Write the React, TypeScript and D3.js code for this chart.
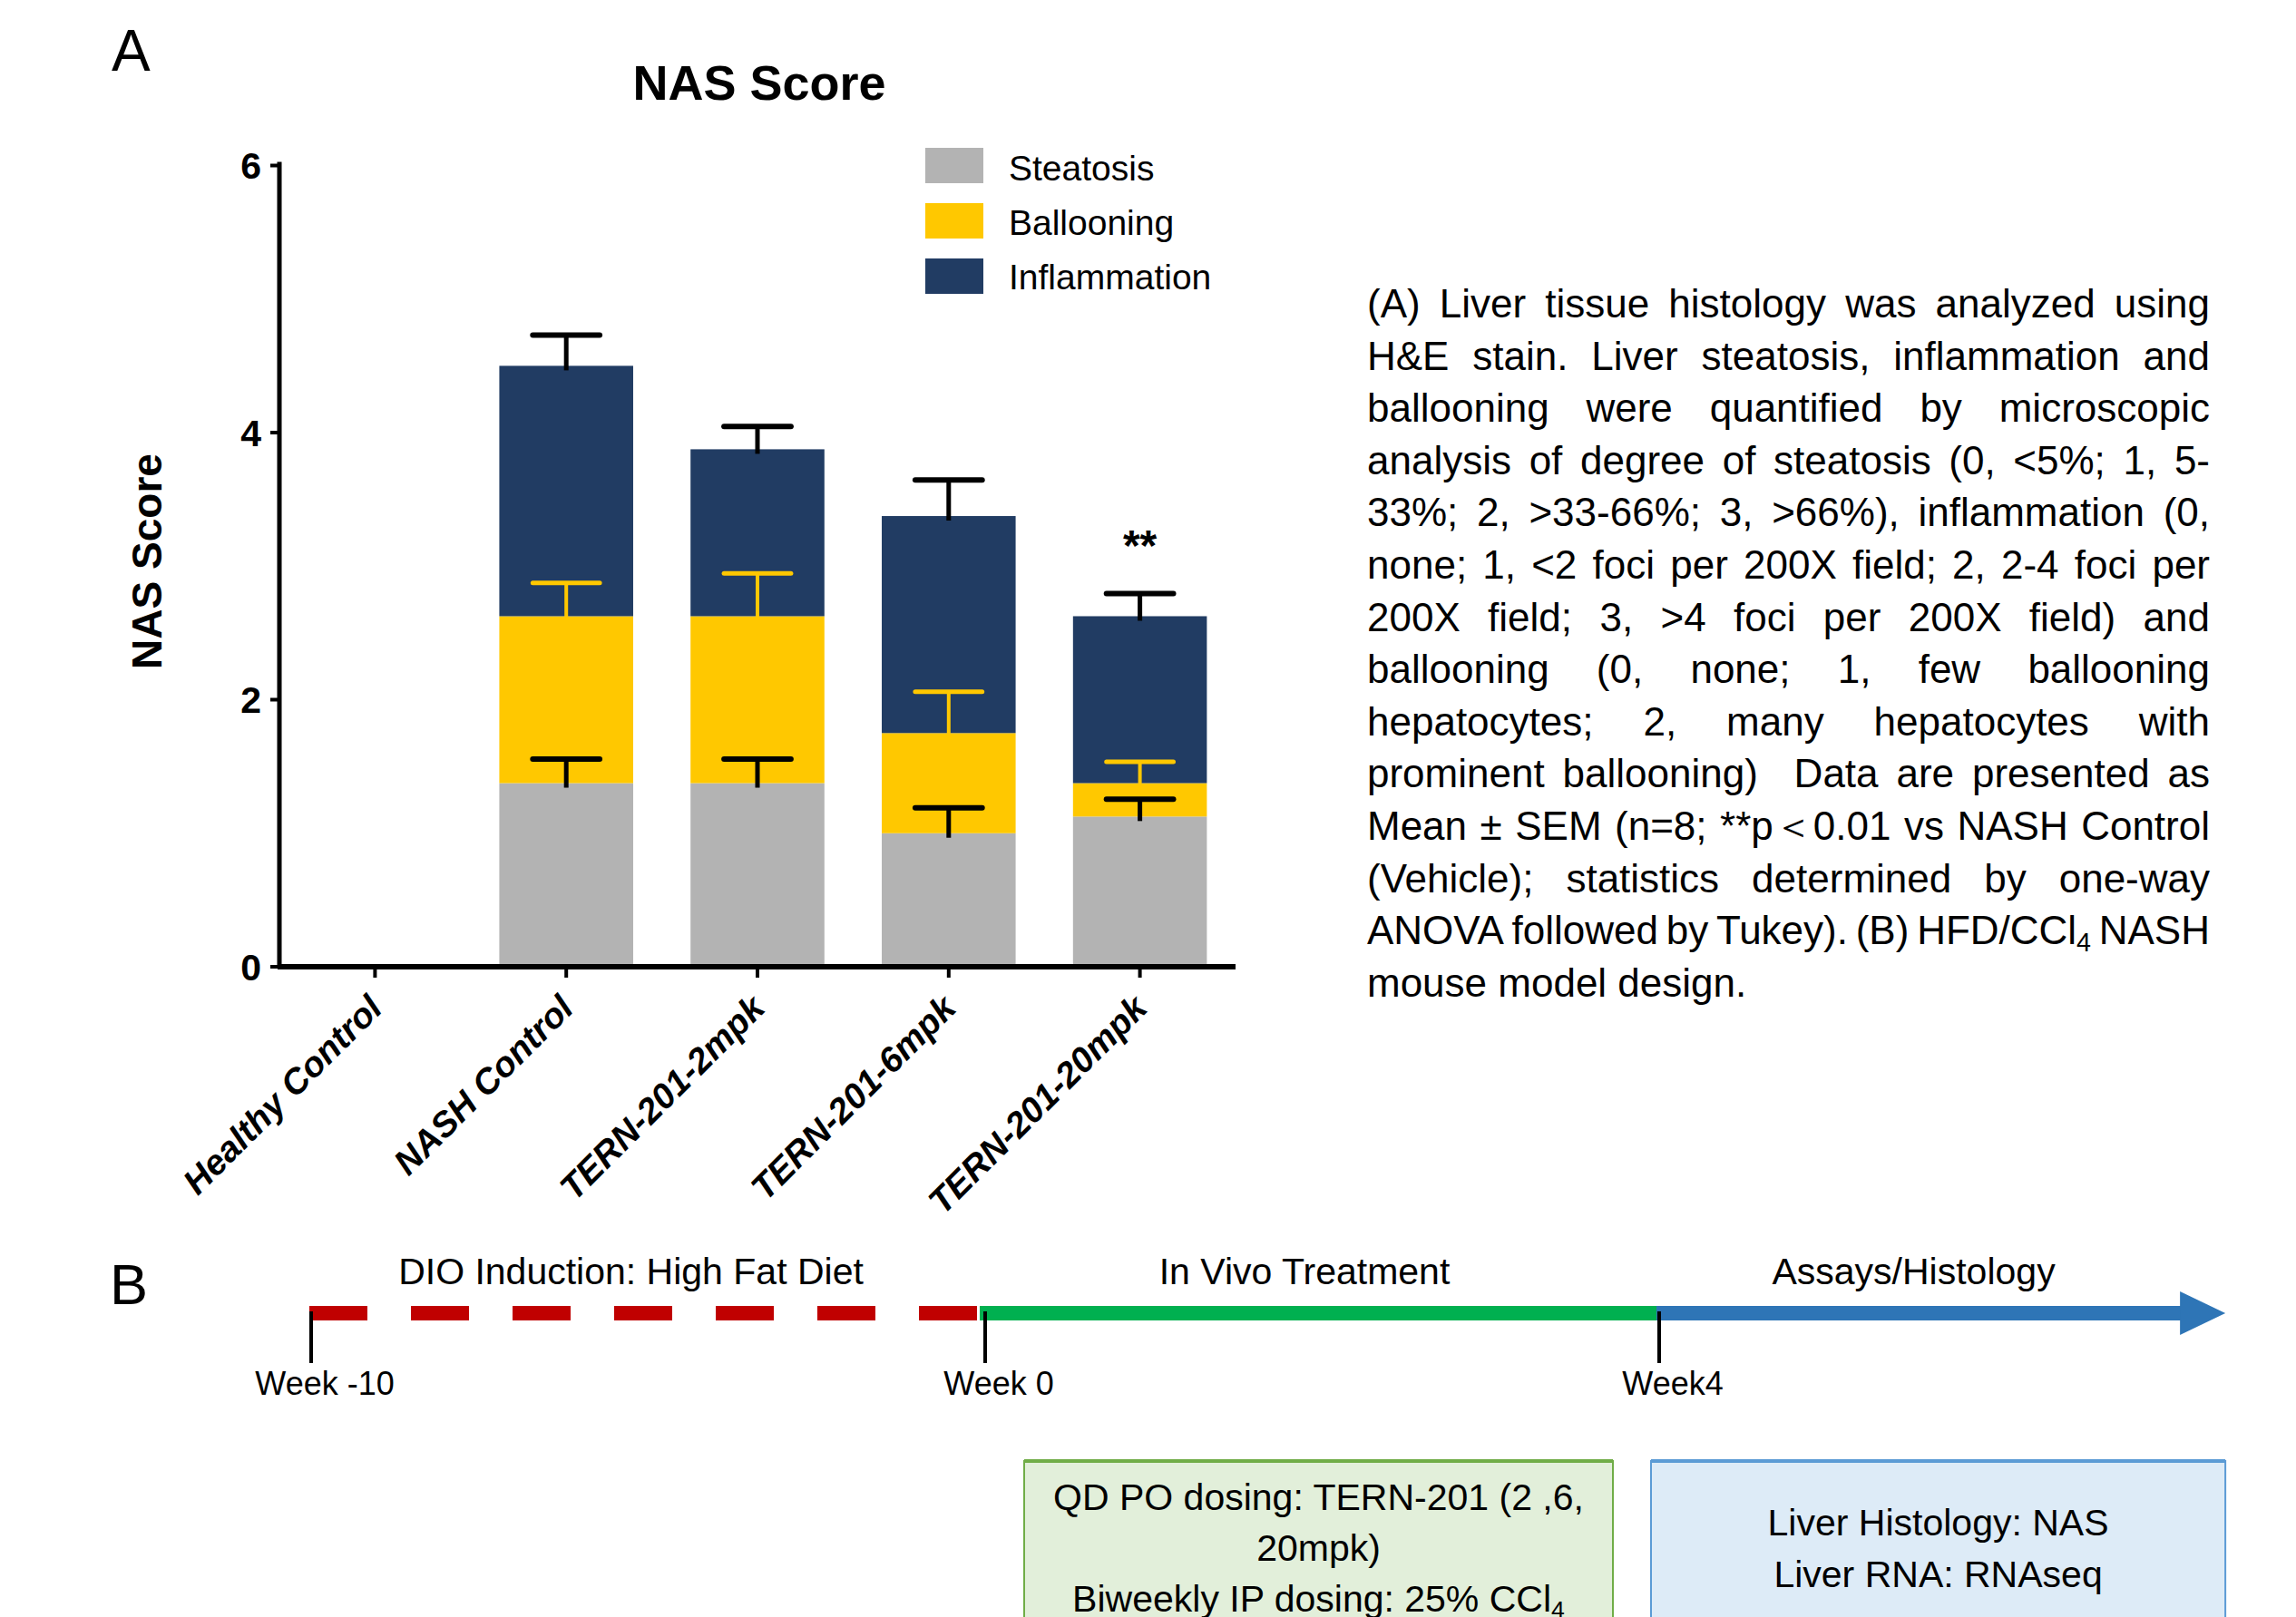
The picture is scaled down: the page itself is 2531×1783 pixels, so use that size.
import React from 'react';
import * as d3 from 'd3';

const categories = ['Healthy Control', 'NASH Control', 'TERN-201-2mpk', 'TERN-201-6mpk', 'TERN-201-20mpk'];
const steatosis = [0, 1.375, 1.375, 1.0, 1.125];
const ballooning = [0, 1.25, 1.25, 0.75, 0.25];
const inflammation = [0, 1.875, 1.25, 1.625, 1.25];
const steatosisSEM = [0, 0.18, 0.18, 0.19, 0.13];
const ballooningSEM = [0, 0.25, 0.32, 0.31, 0.16];
const inflammationSEM = [0, 0.23, 0.17, 0.27, 0.17];
const significance = ['', '', '', '', '**'];
const yTicks = [0, 2, 4, 6];
const seriesNames = ['Steatosis', 'Ballooning', 'Inflammation'];
const seriesColors = ['#b3b3b3', '#ffc800', '#213c63'];
const errColors = ['#000000', '#ffc800', '#000000'];

const captionLines = [
  '(A) Liver tissue histology was analyzed using',
  'H&E stain. Liver steatosis, inflammation and',
  'ballooning were quantified by microscopic',
  'analysis of degree of steatosis (0, <5%; 1, 5-',
  '33%; 2, >33-66%; 3, >66%), inflammation (0,',
  'none; 1, <2 foci per 200X field; 2, 2-4 foci per',
  '200X field; 3, >4 foci per 200X field) and',
  'ballooning (0, none; 1, few ballooning',
  'hepatocytes; 2, many hepatocytes with',
  'prominent ballooning)  Data are presented as',
  'Mean ± SEM (n=8; **p＜0.01 vs NASH Control',
  '(Vehicle); statistics determined by one-way',
  'ANOVA followed by Tukey). (B) HFD/CCl_4 NASH',
  'mouse model design.',
];

const milestones = ['Week -10', 'Week 0', 'Week4'];
const phases = ['DIO Induction: High Fat Diet', 'In Vivo Treatment', 'Assays/Histology'];
const treatmentBox = ['QD PO dosing: TERN-201 (2 ,6,', '20mpk)', 'Biweekly IP dosing: 25% CCl_4'];
const assayBox = ['Liver Histology: NAS', 'Liver RNA: RNAseq'];

const FONT = '"Liberation Sans", Arial, "Noto Sans", sans-serif';

let measureCtx: CanvasRenderingContext2D | null = null;
function measure(text: string, size: number): number {
  if (!measureCtx) measureCtx = document.createElement('canvas').getContext('2d');
  if (!measureCtx) return text.length * size * 0.5;
  measureCtx.font = `${size}px "Liberation Sans", Arial, sans-serif`;
  return measureCtx.measureText(text).width;
}

function tokenWidth(tok: string, size: number): number {
  if (tok.includes('_')) {
    const [a, b] = tok.split('_');
    return measure(a, size) + measure(b, size * 0.65);
  }
  return measure(tok, size);
}

function renderTok(tok: string, size: number) {
  if (tok.includes('_')) {
    const [a, b] = tok.split('_');
    return (
      <>
        {a}
        <tspan fontSize={size * 0.65} dy={size * 0.18}>{b}</tspan>
      </>
    );
  }
  return tok;
}

export default function App() {
  // ---------- Panel A chart ----------
  const x = d3.scaleBand<string>().domain(categories).range([308, 1362]).paddingInner(0.3).paddingOuter(0.15);
  const y = d3.scaleLinear().domain([0, 6]).range([1066, 182.5]);

  const rows = categories.map((c, i) => ({
    cat: c,
    Steatosis: steatosis[i],
    Ballooning: ballooning[i],
    Inflammation: inflammation[i],
  }));
  const stacked = d3.stack<any>().keys(seriesNames)(rows);
  const sems = [steatosisSEM, ballooningSEM, inflammationSEM];
  const capHalf = x.bandwidth() * 0.25;

  // ---------- caption ----------
  const capSize = 44;
  const capLeft = 1507;
  const capRight = 2436;
  const capTop = 350;
  const capLH = 57.6;

  // ---------- Panel B timeline ----------
  const m = d3.scalePoint<string>().domain(milestones).range([343, 1829]);
  const step = m.step();
  const tlY = 1448;
  const redStart = m('Week -10')! - 2;
  const greenStart = m('Week 0')! - 6;
  const blueStart = m('Week4')! - 3;
  const tip = m('Week4')! + step * 0.84;
  const headBase = tip - 50;
  const phaseStarts = [redStart, greenStart, blueStart];
  const phaseEnds = [greenStart, blueStart, tip];

  const greenBox = { x0: m('Week 0')! + 43, x1: m('Week4')! - 51 };
  const blueBox = { x0: m('Week4')! - 9, x1: tip };
  const boxTop = 1611;

  return (
    <svg width={2531} height={1783} style={{ position: 'absolute', left: 0, top: 0, background: '#fff' }} fontFamily={FONT}>
      <rect x={0} y={0} width={2531} height={1783} fill="#fff" />
      {/* panel letters */}
      <text x={123} y={78} fontSize={64} fill="#000">A</text>
      <text x={121} y={1438} fontSize={63} fill="#000">B</text>

      {/* title */}
      <text x={837} y={110} fontSize={54} fontWeight="bold" textAnchor="middle">NAS Score</text>

      {/* y title */}
      <text transform={`translate(178,619) rotate(-90)`} fontSize={46} fontWeight="bold" textAnchor="middle">NAS Score</text>

      {/* bars */}
      {stacked.map((s, si) => (
        <g key={s.key}>
          {s.map((d, i) =>
            d[1] - d[0] > 0 ? (
              <rect
                key={i}
                x={x(categories[i])!}
                y={y(d[1])}
                width={x.bandwidth()}
                height={y(d[0]) - y(d[1])}
                fill={seriesColors[si]}
              />
            ) : null
          )}
        </g>
      ))}

      {/* error bars */}
      {stacked.map((s, si) => (
        <g key={'e' + s.key} stroke={errColors[si]}>
          {s.map((d, i) => {
            const err = sems[si][i];
            if (!(d[1] - d[0] > 0) || !err) return null;
            const cx = x(categories[i])! + x.bandwidth() / 2;
            const isYellow = si === 1;
            return (
              <g key={i}>
                <line x1={cx} x2={cx} y1={y(d[1]) + 5} y2={y(d[1] + err)} strokeWidth={isYellow ? 4 : 5} />
                <line
                  x1={cx - capHalf}
                  x2={cx + capHalf}
                  y1={y(d[1] + err)}
                  y2={y(d[1] + err)}
                  strokeWidth={isYellow ? 5 : 6}
                  strokeLinecap="round"
                />
              </g>
            );
          })}
        </g>
      ))}

      {/* significance */}
      {categories.map((c, i) =>
        significance[i] ? (
          <text
            key={c}
            x={x(c)! + x.bandwidth() / 2}
            y={y(steatosis[i] + ballooning[i] + inflammation[i] + inflammationSEM[i]) - 36}
            fontSize={48}
            fontWeight="bold"
            textAnchor="middle"
          >
            {significance[i]}
          </text>
        ) : null
      )}

      {/* y axis */}
      <line x1={308} x2={308} y1={y(6) - 4} y2={y(0)} stroke="#000" strokeWidth={5} />
      {yTicks.map((t) => (
        <g key={t}>
          <line x1={298} x2={308} y1={y(t)} y2={y(t)} stroke="#000" strokeWidth={4} />
          <text x={288} y={y(t)} dy="0.36em" fontSize={41} fontWeight="bold" textAnchor="end">
            {t}
          </text>
        </g>
      ))}

      {/* x axis */}
      <line x1={306} x2={1362} y1={y(0)} y2={y(0)} stroke="#000" strokeWidth={6} />
      {categories.map((c) => {
        const cx = x(c)! + x.bandwidth() / 2;
        return (
          <g key={c}>
            <line x1={cx} x2={cx} y1={y(0)} y2={y(0) + 12} stroke="#000" strokeWidth={4} />
            <text
              transform={`translate(${cx + 10},${y(0) + 48}) rotate(-45)`}
              fontSize={39}
              fontWeight="bold"
              fontStyle="italic"
              textAnchor="end"
            >
              {c}
            </text>
          </g>
        );
      })}

      {/* legend */}
      {seriesNames.map((n, i) => (
        <g key={n}>
          <rect x={1020} y={163 + i * 61} width={64} height={39} fill={seriesColors[i]} />
          <text x={1112} y={199 + i * 60} fontSize={39} fill="#000">
            {n}
          </text>
        </g>
      ))}

      {/* caption (justified) */}
      {captionLines.map((line, li) => {
        const toks = line.split(' ');
        const baseY = capTop + li * capLH;
        const widths = toks.map((t) => tokenWidth(t, capSize));
        const total = widths.reduce((a, b) => a + b, 0);
        const isLast = li === captionLines.length - 1;
        const space = measure(' ', capSize);
        const gap = isLast || toks.length < 2 ? space : (capRight - capLeft - total) / (toks.length - 1);
        let cx = capLeft;
        return (
          <g key={li}>
            {toks.map((t, ti) => {
              const px = cx;
              cx += widths[ti] + gap;
              if (!t) return null;
              return (
                <text key={ti} x={px} y={baseY} fontSize={capSize} fill="#000">
                  {renderTok(t, capSize)}
                </text>
              );
            })}
          </g>
        );
      })}

      {/* timeline */}
      <line x1={redStart} x2={greenStart} y1={tlY} y2={tlY} stroke="#c00000" strokeWidth={16} strokeDasharray="64 48" />
      <line x1={greenStart} x2={blueStart} y1={tlY} y2={tlY} stroke="#00b050" strokeWidth={16} />
      <line x1={blueStart} x2={headBase + 1} y1={tlY} y2={tlY} stroke="#2e75b6" strokeWidth={16} />
      <path d={`M${headBase},${tlY - 24} L${tip},${tlY} L${headBase},${tlY + 24} Z`} fill="#2e75b6" />

      {phases.map((p, i) => (
        <text
          key={p}
          x={(phaseStarts[i] + phaseEnds[i]) / 2 - (i === 2 ? 30 : 15)}
          y={1416}
          fontSize={41}
          textAnchor="middle"
        >
          {p}
        </text>
      ))}

      {milestones.map((w) => (
        <g key={w}>
          <line x1={m(w)!} x2={m(w)!} y1={tlY - 2} y2={tlY + 55} stroke="#000" strokeWidth={4} />
          <text x={m(w)! + 15} y={1538} fontSize={36} textAnchor="middle">
            {w}
          </text>
        </g>
      ))}

      {/* boxes */}
      <rect x={greenBox.x0} y={boxTop} width={greenBox.x1 - greenBox.x0} height={260} fill="#e2efda" stroke="#70ad47" strokeWidth={2} />
      <line x1={greenBox.x0} x2={greenBox.x1} y1={boxTop} y2={boxTop} stroke="#70ad47" strokeWidth={4} />
      <rect x={blueBox.x0} y={boxTop} width={blueBox.x1 - blueBox.x0} height={260} fill="#ddebf7" stroke="#5b9bd5" strokeWidth={2} />
      <line x1={blueBox.x0} x2={blueBox.x1} y1={boxTop} y2={boxTop} stroke="#5b9bd5" strokeWidth={4} />
      {treatmentBox.map((t, i) => (
        <text key={i} x={(greenBox.x0 + greenBox.x1) / 2} y={1665 + i * 56} fontSize={41} textAnchor="middle">
          {renderTok(t, 41)}
        </text>
      ))}
      {assayBox.map((t, i) => (
        <text key={i} x={(blueBox.x0 + blueBox.x1) / 2} y={1693 + i * 57} fontSize={41} textAnchor="middle">
          {t}
        </text>
      ))}
    </svg>
  );
}
